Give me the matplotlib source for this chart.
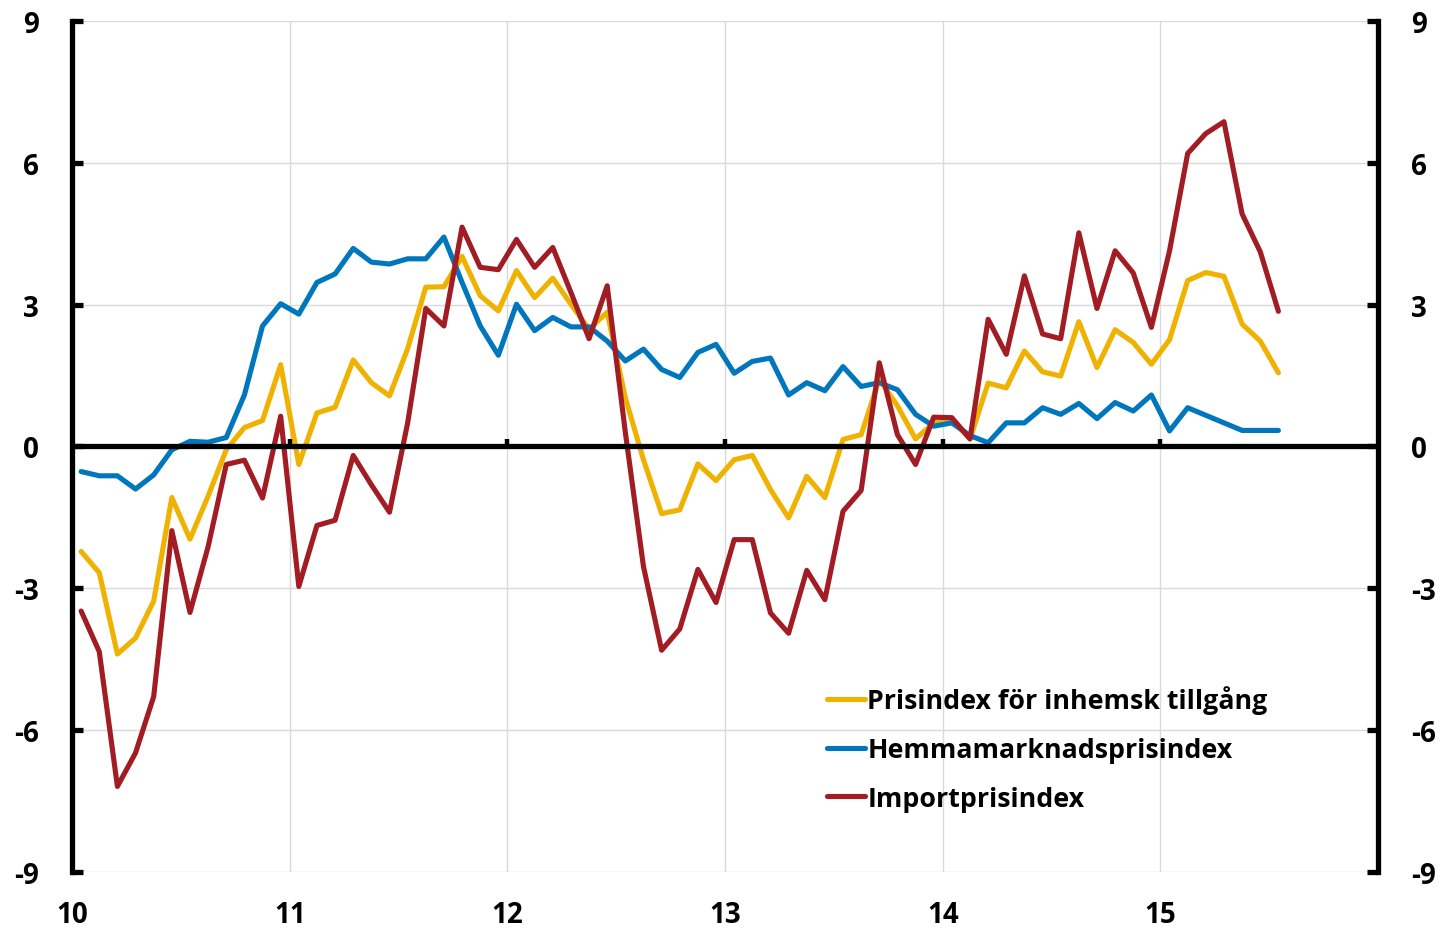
import matplotlib
matplotlib.use("Agg")
import matplotlib.pyplot as plt
import numpy as np

plt.rcParams['font.family'] = ['Open Sans', 'DejaVu Sans']
plt.rcParams['font.weight'] = 'bold'
plt.rcParams['axes.unicode_minus'] = False

# monthly, jan 2010 - jul 2015
months = np.arange(67)

inhemsk = [-2.22, -2.67, -4.39, -4.05, -3.27, -1.08, -1.96, -1.05, -0.07, 0.40, 0.55, 1.73,
           -0.38, 0.71, 0.83, 1.83, 1.35, 1.07, 2.07, 3.37, 3.38, 4.02, 3.19, 2.87,
           3.72, 3.15, 3.56, 3.01, 2.48, 2.84, 1.03, -0.28, -1.42, -1.34, -0.37, -0.72,
           -0.28, -0.19, -0.91, -1.51, -0.63, -1.08, 0.15, 0.25, 1.42, 0.86, 0.16, 0.50,
           0.57, 0.16, 1.34, 1.24, 2.02, 1.58, 1.49, 2.64, 1.67, 2.47, 2.20, 1.74,
           2.26, 3.51, 3.68, 3.60, 2.59, 2.23, 1.56]

hemma = [-0.53, -0.62, -0.62, -0.90, -0.60, -0.07, 0.11, 0.09, 0.19, 1.09, 2.55, 3.02,
         2.80, 3.47, 3.65, 4.19, 3.90, 3.86, 3.97, 3.97, 4.43, 3.47, 2.55, 1.93,
         3.01, 2.45, 2.73, 2.53, 2.53, 2.23, 1.81, 2.06, 1.63, 1.46, 1.99, 2.16,
         1.55, 1.80, 1.87, 1.09, 1.35, 1.18, 1.69, 1.27, 1.35, 1.20, 0.68, 0.43,
         0.50, 0.23, 0.08, 0.50, 0.50, 0.82, 0.68, 0.91, 0.59, 0.93, 0.75, 1.09,
         0.33, 0.82, 0.66, 0.50, 0.34, 0.34, 0.34]

importp = [-3.48, -4.34, -7.19, -6.48, -5.29, -1.78, -3.51, -2.12, -0.38, -0.29, -1.09, 0.64,
           -2.96, -1.67, -1.56, -0.19, -0.81, -1.39, 0.50, 2.92, 2.55, 4.64, 3.79, 3.74,
           4.38, 3.79, 4.21, 3.26, 2.28, 3.40, 0.30, -2.54, -4.31, -3.86, -2.60, -3.30,
           -1.97, -1.97, -3.52, -3.95, -2.62, -3.24, -1.37, -0.93, 1.77, 0.25, -0.38, 0.62,
           0.61, 0.16, 2.69, 1.95, 3.61, 2.38, 2.28, 4.52, 2.92, 4.14, 3.67, 2.52,
           4.14, 6.20, 6.62, 6.87, 4.92, 4.12, 2.86]

labels = ['Prisindex för inhemsk tillgång', 'Hemmamarknadsprisindex', 'Importprisindex']
colors = ['#EFB200', '#0077BD', '#A21D23']
years = [10, 11, 12, 13, 14, 15]
yticks = [-9, -6, -3, 0, 3, 6, 9]

x = 10 + (months + 0.5) / 12

fig = plt.figure(figsize=(14.44, 9.29), dpi=100)
ax = fig.add_axes([0.0499, 0.0603, 0.9045, 0.916])

for g in yticks:
    if g != 0:
        ax.axhline(g, color='#d9d9d9', lw=1, zorder=0)
for yr in years[1:]:
    ax.axvline(yr, color='#d9d9d9', lw=1, zorder=0)

for vals, lab, c in zip([inhemsk, hemma, importp], labels, colors):
    ax.plot(x, vals, color=c, lw=3.7, label=lab, solid_capstyle='round', zorder=3)

ax.axhline(0, color='black', lw=3.8, zorder=4)
ax.vlines(years[1:], 0, 0.16, color='black', lw=3.2, zorder=4)

ax.set_xlim(10, 16)
ax.set_ylim(-9, 9)
ax.set_xticks(years)
ax.set_xticklabels([str(y) for y in years])
ax.set_yticks(yticks)
ax.tick_params(axis='x', length=0, pad=20, labelsize=20)
ax.tick_params(axis='y', direction='in', length=8, width=3.8, labelsize=20,
               left=True, right=True, labelleft=True, labelright=True, pad=24)
for lab in ax.get_yticklabels():
    lab.set_fontweight('bold')
for lab in ax.get_xticklabels():
    lab.set_fontweight('bold')

for s in ['top', 'bottom']:
    ax.spines[s].set_visible(False)
for s in ['left', 'right']:
    ax.spines[s].set_linewidth(3.8)

leg = ax.legend(loc='upper left', bbox_to_anchor=(0.57, 0.232), frameon=False,
                fontsize=19.3, handlelength=1.4, handletextpad=0.1, labelspacing=0.85,
                borderaxespad=0)
for t in leg.get_texts():
    t.set_fontweight('bold')

fig.savefig('out.png', dpi=100)
